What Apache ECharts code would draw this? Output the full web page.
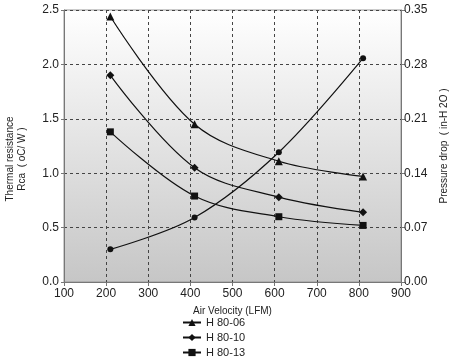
<!DOCTYPE html>
<html>
<head>
<meta charset="utf-8">
<script src="https://cdn.jsdelivr.net/npm/echarts@6/dist/echarts.min.js"></script>
<style>html,body{margin:0;padding:0;background:#fff;}#c{width:454px;height:360px;}</style>
</head>
<body>
<div id="c"></div>
<script>
const airVelocity = [210, 410, 610, 810];
const h8006 = [2.44, 1.45, 1.11, 0.97];
const h8010 = [1.90, 1.05, 0.78, 0.64];
const h8013 = [1.38, 0.79, 0.60, 0.52];
const pressureDrop = [0.042, 0.083, 0.167, 0.288];
const seriesNames = ['H 80-06', 'H 80-10', 'H 80-13'];

const pair = (xs, ys) => xs.map((x, i) => [x, ys[i]]);
const chart = echarts.init(document.getElementById('c'), null, {renderer: 'canvas'});
const lineStyle = {color: '#111', width: 1.2};
const tickFont = {color: '#222', fontSize: 12, fontFamily: 'Liberation Sans'};
chart.setOption({
  animation: false,
  grid: {
    left: 64, right: 53, top: 10, bottom: 78, show: true, outerBoundsMode: 'none', containLabel: false,
    borderColor: '#999', borderWidth: 1,
    backgroundColor: new echarts.graphic.LinearGradient(0, 0, 0, 1, [
      {offset: 0, color: '#ffffff'}, {offset: 1, color: '#c6c6c6'}
    ])
  },
  legend: {
    data: seriesNames, orient: 'vertical', left: 182, top: 316, height: 60, padding: 0, itemGap: 2,
    itemWidth: 18, itemHeight: 9,
    textStyle: {color: '#222', fontSize: 11, lineHeight: 13, fontFamily: 'Liberation Sans'}
  },
  xAxis: {
    type: 'value', min: 100, max: 900, interval: 100,
    name: 'Air Velocity (LFM)', nameLocation: 'middle', nameGap: 24,
    nameTextStyle: {color: '#222', fontSize: 10, fontFamily: 'Liberation Sans'},
    axisLine: {show: true, lineStyle: {color: '#777'}},
    axisTick: {show: true, length: 4, lineStyle: {color: '#777'}},
    axisLabel: Object.assign({margin: 6}, tickFont),
    splitLine: {show: true, lineStyle: {color: '#444', type: [3, 3], width: 1}}
  },
  yAxis: [{
    type: 'value', min: 0, max: 2.5, interval: 0.5, position: 'left',
    name: 'Thermal resistance\nRca  ( oC/ W )', nameLocation: 'middle', nameGap: 36, nameRotate: 90,
    nameTextStyle: {color: '#222', fontSize: 10, fontFamily: 'Liberation Sans', lineHeight: 12, padding: [0, 26, 0, 0]},
    axisLine: {show: true, lineStyle: {color: '#777'}},
    axisTick: {show: true, length: 3, lineStyle: {color: '#777'}},
    axisLabel: Object.assign({margin: 5, formatter: v => v.toFixed(1)}, tickFont),
    splitLine: {show: true, lineStyle: {color: '#444', type: [3, 3], width: 1}}
  }, {
    type: 'value', min: 0, max: 0.35, interval: 0.07, position: 'right',
    name: 'Pressure drop  ( in-H 2O )', nameLocation: 'middle', nameGap: 38, nameRotate: 90,
    nameTextStyle: {color: '#222', fontSize: 10, fontFamily: 'Liberation Sans'},
    axisLine: {show: true, lineStyle: {color: '#777'}},
    axisTick: {show: true, length: 4, lineStyle: {color: '#777'}},
    axisLabel: Object.assign({margin: 3, formatter: v => v.toFixed(2)}, tickFont),
    splitLine: {show: false}
  }],
  series: [
    {name: seriesNames[0], type: 'line', smooth: 0.35, data: pair(airVelocity, h8006),
     symbol: 'triangle', symbolSize: 8, itemStyle: {color: '#111'}, lineStyle},
    {name: seriesNames[1], type: 'line', smooth: 0.35, data: pair(airVelocity, h8010),
     symbol: 'diamond', symbolSize: 8, itemStyle: {color: '#111'}, lineStyle},
    {name: seriesNames[2], type: 'line', smooth: 0.35, data: pair(airVelocity, h8013),
     symbol: 'rect', symbolSize: 7, itemStyle: {color: '#111'}, lineStyle},
    {name: 'Pressure drop', type: 'line', smooth: 0.35, yAxisIndex: 1, data: pair(airVelocity, pressureDrop),
     symbol: 'circle', symbolSize: 6, itemStyle: {color: '#111'}, lineStyle}
  ]
});
</script>
</body>
</html>
